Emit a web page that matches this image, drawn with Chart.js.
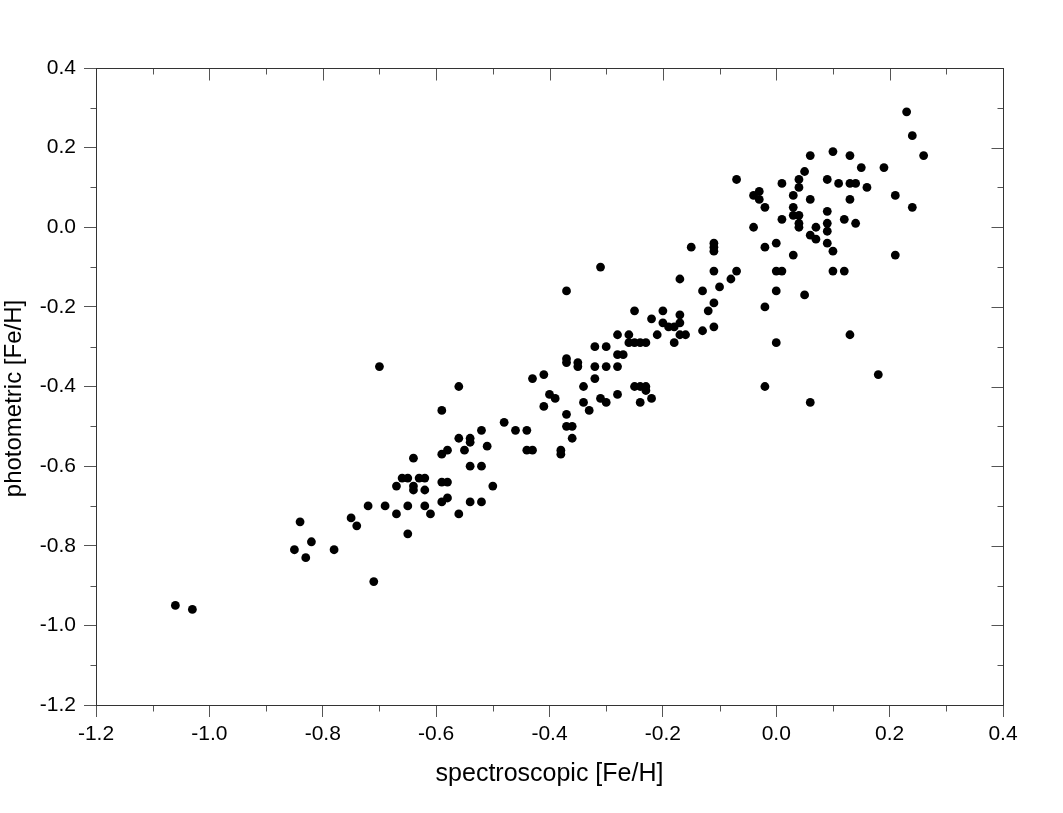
<!DOCTYPE html>
<html>
<head>
<meta charset="utf-8">
<script src="https://cdn.jsdelivr.net/npm/chart.js@4.4.1/dist/chart.umd.min.js"></script>
<style>
html,body{margin:0;padding:0;background:#fff;}
#wrap{width:1063px;height:813px;}
canvas{display:block;}
</style>
</head>
<body>
<div id="wrap"><canvas id="c" width="1063" height="813"></canvas></div>
<script>
// spectroscopic [Fe/H] (x) and photometric [Fe/H] (y)
const spectroscopic = [
  0.23, 0.24, 0.26, 0.06, 0.10, 0.13, 0.15, 0.19, 0.05, -0.07,
  0.01, 0.04, 0.04, 0.09, 0.11, 0.13, 0.14, 0.16, -0.04, -0.03,
  -0.03, 0.03, 0.06, 0.13, 0.21, 0.24, -0.02, 0.03, 0.01, 0.03,
  0.04, 0.04, 0.04, -0.04, 0.07, 0.09, 0.09, 0.09, 0.12, 0.14,
  0.06, 0.07, 0.09, 0.10, 0.00, -0.02, 0.03, 0.21, -0.11, -0.11,
  -0.11, -0.15, -0.11, -0.07, -0.17, 0.00, 0.01, 0.10, 0.12, -0.13,
  -0.08, -0.10, 0.00, 0.05, -0.11, -0.12, -0.02, -0.20, -0.17, -0.20,
  -0.19, -0.18, -0.17, -0.21, -0.17, -0.16, -0.18, -0.13, -0.11, 0.00,
  0.13, -0.02, 0.18, 0.06, -0.31, -0.37, -0.25, -0.22, -0.28, -0.26,
  -0.26, -0.25, -0.24, -0.23, -0.32, -0.30, -0.28, -0.27, -0.37, -0.37,
  -0.35, -0.35, -0.32, -0.30, -0.28, -0.43, -0.41, -0.32, -0.34, -0.25,
  -0.24, -0.23, -0.23, -0.22, -0.24, -0.40, -0.39, -0.41, -0.31, -0.30,
  -0.28, -0.34, -0.33, -0.37, -0.37, -0.36, -0.36, -0.48, -0.46, -0.44,
  -0.70, -0.56, -0.59, -0.44, -0.43, -0.38, -0.38, -0.52, -0.56, -0.54,
  -0.54, -0.51, -0.59, -0.58, -0.55, -0.64, -0.54, -0.52, -0.50, -0.66,
  -0.65, -0.63, -0.62, -0.67, -0.64, -0.64, -0.62, -0.59, -0.58, -0.59,
  -0.58, -0.54, -0.52, -0.56, -0.72, -0.69, -0.67, -0.65, -0.62, -0.61,
  -0.65, -1.06, -1.03, -0.84, -0.82, -0.85, -0.83, -0.78, -0.75, -0.74,
  -0.71
];
const photometric = [
  0.29, 0.23, 0.18, 0.18, 0.19, 0.18, 0.15, 0.15, 0.14, 0.12,
  0.11, 0.12, 0.10, 0.12, 0.11, 0.11, 0.11, 0.10, 0.08, 0.09,
  0.07, 0.08, 0.07, 0.07, 0.08, 0.05, 0.05, 0.05, 0.02, 0.03,
  0.03, 0.01, 0.00, 0.00, 0.00, 0.04, 0.01, -0.01, 0.02, 0.01,
  -0.02, -0.03, -0.04, -0.06, -0.04, -0.05, -0.07, -0.07, -0.04, -0.05,
  -0.06, -0.05, -0.11, -0.11, -0.13, -0.11, -0.11, -0.11, -0.11, -0.16,
  -0.13, -0.15, -0.16, -0.17, -0.19, -0.21, -0.20, -0.21, -0.22, -0.24,
  -0.25, -0.25, -0.24, -0.27, -0.27, -0.27, -0.29, -0.26, -0.25, -0.29,
  -0.27, -0.40, -0.37, -0.44, -0.10, -0.16, -0.21, -0.23, -0.27, -0.27,
  -0.29, -0.29, -0.29, -0.29, -0.30, -0.30, -0.32, -0.32, -0.33, -0.34,
  -0.34, -0.35, -0.35, -0.35, -0.35, -0.38, -0.37, -0.38, -0.40, -0.40,
  -0.40, -0.40, -0.41, -0.43, -0.44, -0.42, -0.43, -0.45, -0.43, -0.44,
  -0.42, -0.44, -0.46, -0.47, -0.50, -0.50, -0.53, -0.49, -0.51, -0.51,
  -0.35, -0.40, -0.46, -0.56, -0.56, -0.56, -0.57, -0.51, -0.53, -0.53,
  -0.54, -0.55, -0.57, -0.56, -0.56, -0.58, -0.60, -0.60, -0.65, -0.63,
  -0.63, -0.63, -0.63, -0.65, -0.65, -0.66, -0.66, -0.64, -0.64, -0.69,
  -0.68, -0.69, -0.69, -0.72, -0.70, -0.70, -0.72, -0.70, -0.70, -0.72,
  -0.77, -0.95, -0.96, -0.74, -0.79, -0.81, -0.83, -0.81, -0.73, -0.75,
  -0.89
];
const tickValues = [-1.2, -1.0, -0.8, -0.6, -0.4, -0.2, 0.0, 0.2, 0.4];
const tickLabels = ['-1.2', '-1.0', '-0.8', '-0.6', '-0.4', '-0.2', '0.0', '0.2', '0.4'];
const minorValues = [-1.1, -0.9, -0.7, -0.5, -0.3, -0.1, 0.1, 0.3];
const xTitle = 'spectroscopic [Fe/H]';
const yTitle = 'photometric [Fe/H]';

const FONT = '"Liberation Sans", Arial, Helvetica, sans-serif';
const TICK_COLOR = '#555';
const FRAME_COLOR = '#333';

const framePlugin = {
  id: 'frameTicks',
  beforeDraw(chart) {
    // the reference's vertical axis title sits ~12px below the axis centre
    const s = chart.scales.y;
    if (s && !s._titleShifted) {
      const orig = s.drawTitle;
      s.drawTitle = function () {
        this.ctx.save();
        this.ctx.translate(0, 12);
        orig.call(this);
        this.ctx.restore();
      };
      s._titleShifted = true;
    }
  },
  afterDraw(chart) {
    const {ctx, chartArea: {left, right, top, bottom}, scales: {x, y}} = chart;
    const a = v => Math.round(v) + 0.5;
    const L = a(left), R = a(right), T = a(top), B = a(bottom);
    ctx.save();
    ctx.lineWidth = 1;
    ctx.strokeStyle = TICK_COLOR;
    ctx.beginPath();
    tickValues.forEach(v => {
      const px = a(x.getPixelForValue(v));
      ctx.moveTo(px, T); ctx.lineTo(px, T + 12);
      const py = a(y.getPixelForValue(v));
      ctx.moveTo(R, py); ctx.lineTo(R - 12, py);
    });
    minorValues.forEach(v => {
      const px = a(x.getPixelForValue(v));
      ctx.moveTo(px, T); ctx.lineTo(px, T + 6);
      ctx.moveTo(px, B); ctx.lineTo(px, B + 6);
      const py = a(y.getPixelForValue(v));
      ctx.moveTo(R, py); ctx.lineTo(R - 6, py);
      ctx.moveTo(L, py); ctx.lineTo(L - 6, py);
    });
    ctx.stroke();
    ctx.strokeStyle = FRAME_COLOR;
    ctx.strokeRect(L, T, R - L, B - T);
    ctx.restore();
  }
};

new Chart(document.getElementById('c'), {
  type: 'scatter',
  data: {
    datasets: [{
      data: spectroscopic.map((v, i) => ({x: v, y: photometric[i]})),
      backgroundColor: '#000',
      borderColor: '#000',
      borderWidth: 0,
      pointRadius: 4.4,
      pointHoverRadius: 4.4
    }]
  },
  options: {
    responsive: false,
    animation: false,
    devicePixelRatio: 1,
    layout: {padding: {top: 68, right: 60, bottom: 0, left: 0}},
    plugins: {legend: {display: false}, tooltip: {enabled: false}},
    scales: {
      x: {
        type: 'linear',
        min: -1.2, max: 0.4,
        afterBuildTicks: s => { s.ticks = tickValues.map(v => ({value: v})); },
        afterFit: s => { s.height = 108; },
        ticks: {
          callback: (v, i) => tickLabels[i],
          font: {family: FONT, size: 21},
          color: '#000',
          padding: 5,
          maxRotation: 0,
          autoSkip: false
        },
        grid: {drawOnChartArea: false, drawTicks: true, tickLength: 12, color: TICK_COLOR, lineWidth: 1},
        border: {display: true, color: FRAME_COLOR, width: 1},
        title: {display: true, text: xTitle, font: {family: FONT, size: 25}, color: '#000', padding: {top: 0, bottom: 24}}
      },
      y: {
        type: 'linear',
        min: -1.2, max: 0.4,
        afterBuildTicks: s => { s.ticks = tickValues.map(v => ({value: v})); },
        afterFit: s => { s.width = 96; },
        ticks: {
          callback: (v, i) => tickLabels[i],
          font: {family: FONT, size: 21},
          color: '#000',
          padding: 8,
          autoSkip: false
        },
        grid: {drawOnChartArea: false, drawTicks: true, tickLength: 12, color: TICK_COLOR, lineWidth: 1},
        border: {display: true, color: FRAME_COLOR, width: 1},
        title: {display: true, text: yTitle, font: {family: FONT, size: 24}, color: '#000', padding: {top: 0, bottom: 0}}
      }
    }
  },
  plugins: [framePlugin]
});
</script>
</body>
</html>
